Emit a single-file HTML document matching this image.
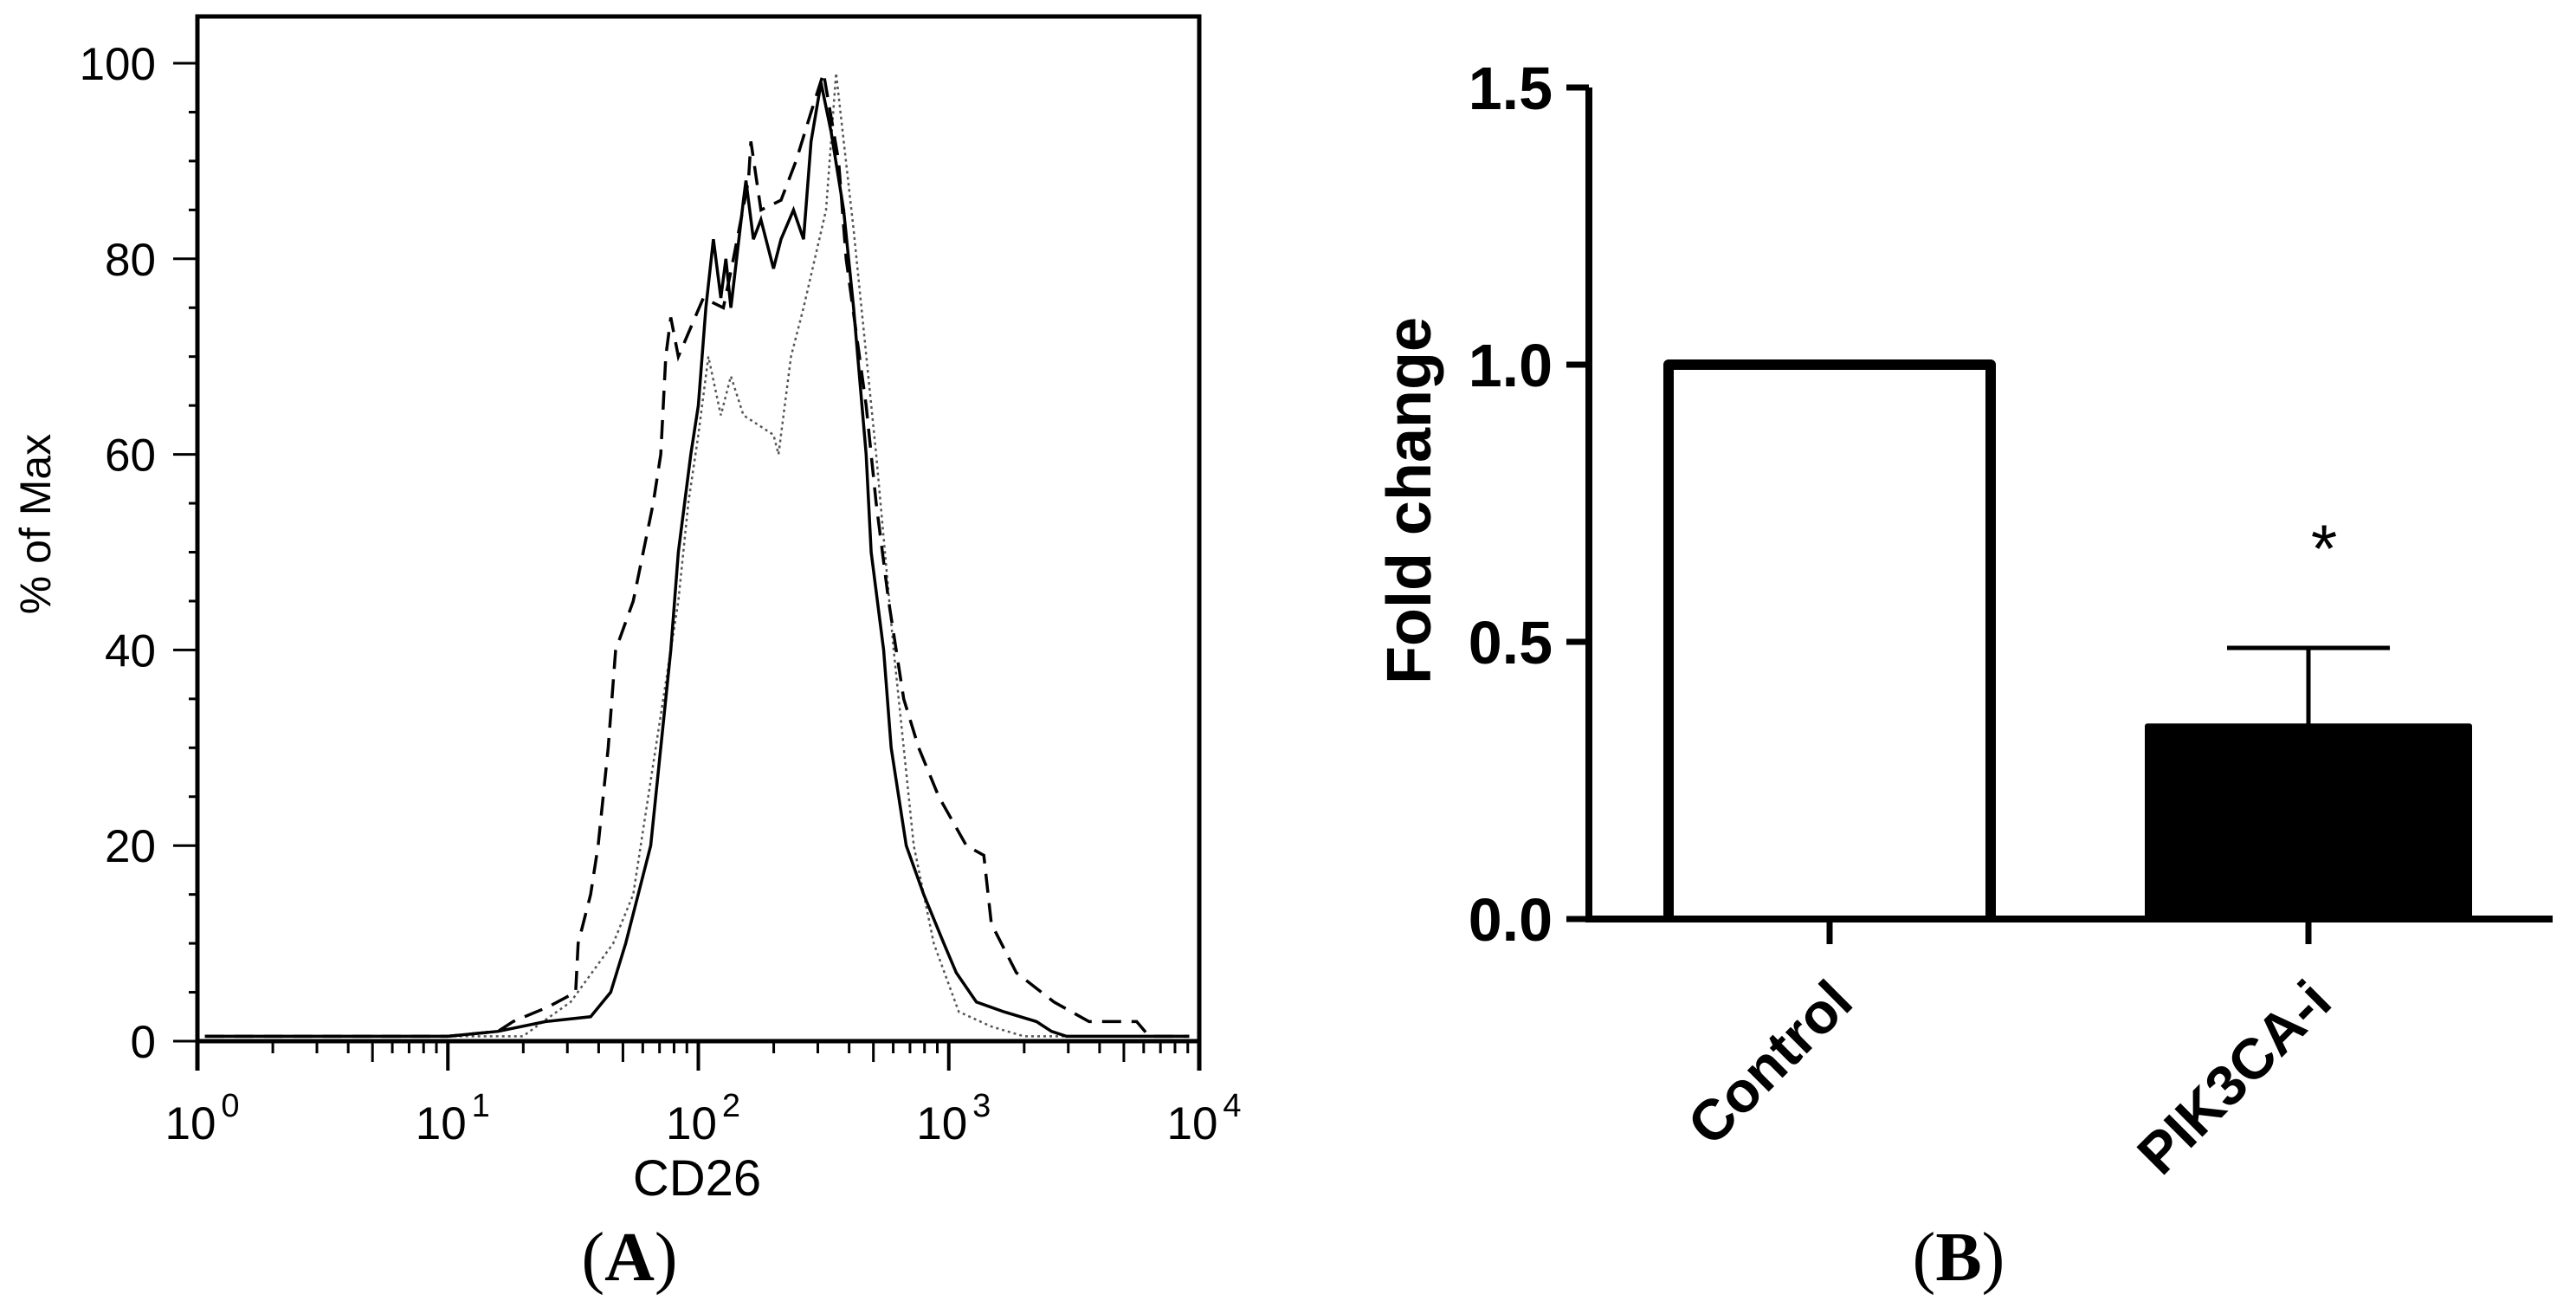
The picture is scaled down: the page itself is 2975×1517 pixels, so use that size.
<!DOCTYPE html>
<html><head><meta charset="utf-8"><style>
html,body{margin:0;padding:0;background:#fff;}
svg{display:block;font-family:"Liberation Sans",sans-serif;}
</style></head><body>
<svg id="fig" width="2975" height="1517" viewBox="0 0 2975 1517" xmlns="http://www.w3.org/2000/svg">
<g id="panelA"></g>
<g id="panelB"></g>
</svg>
<script>
// ---- Panel A data (log10 CD26, % of max) ----
const solidLog = [0.03,0.5,1.0,1.2,1.39,1.57,1.65,1.71,1.81,1.85,1.89,1.92,1.97,2.0,2.03,2.06,2.09,2.11,2.13,2.18,2.19,2.22,2.25,2.30,2.33,2.38,2.42,2.45,2.49,2.53,2.58,2.62,2.67,2.69,2.74,2.77,2.83,2.90,2.98,3.03,3.11,3.22,3.35,3.41,3.47,3.96];
const solidPct = [0.5,0.5,0.5,1,2,2.5,5,10,20,30,40,50,60,65,75,82,76,80,75,86,88,82,84,79,82,85,82,92,98,93,85,75,60,50,40,30,20,15,10,7,4,3,2,1,0.5,0.5];
const dashLog = [0.03,0.5,1.0,1.2,1.26,1.4,1.51,1.52,1.57,1.6,1.64,1.67,1.74,1.82,1.85,1.87,1.89,1.92,2.02,2.10,2.14,2.2,2.21,2.25,2.33,2.39,2.45,2.5,2.56,2.59,2.67,2.71,2.76,2.82,2.88,2.96,3.07,3.14,3.17,3.27,3.42,3.56,3.75,3.8,3.96];
const dashPct = [0.5,0.5,0.5,1,2,3.5,5,10,15,20,30,40,45,55,60,70,74,70,76,75,80,88,92,85,86,90,95,99,90,80,65,55,45,35,30,25,20,19,12,7,4,2,2,0.5,0.5];
const dotLog = [0.03,0.5,1.0,1.3,1.38,1.49,1.66,1.74,1.83,1.92,1.96,2.0,2.04,2.09,2.13,2.18,2.3,2.32,2.37,2.42,2.51,2.55,2.62,2.71,2.78,2.86,2.94,3.04,3.17,3.3,3.96];
const dotPct = [0.5,0.5,0.5,0.5,2,4,10,15,30,45,55,62,70,64,68,64,62,60,70,75,85,99,83,60,40,20,10,3,1.5,0.5,0.5];
const yTicksA = [0,20,40,60,80,100];
const xDecades = [0,1,2,3,4];

// ---- Panel B data ----
const groups = ["Control","PIK3CA-i"];
const foldValues = [1.0,0.348];
const foldErrors = [0,0.141];
const yTicksB = ["0.0","0.5","1.0","1.5"];

const NS="http://www.w3.org/2000/svg";
function mk(tag,attrs,parent){const e=document.createElementNS(NS,tag);for(const k in attrs)e.setAttribute(k,attrs[k]);parent.appendChild(e);return e;}

// ===== Panel A =====
const A=document.getElementById('panelA');
const ax0=228, ax1=1385, ayTop=19, ay0=1202, ay100=73;
const xA=l=>ax0+(ax1-ax0)*l/4;
const yA=p=>ay0-(ay0-ay100)*p/100;

let fr=mk('path',{d:`M${ax0},1236 L${ax0},${ayTop} L${ax1},${ayTop} L${ax1},1236`,fill:'none',stroke:'#000','stroke-width':5},A);


let xl=mk('line',{x1:ax0,y1:ay0,x2:ax1,y2:ay0,stroke:'#000','stroke-width':5},A);



for(let p=0;p<=100;p+=5){
  const major=p%20===0;
  let t=mk('line',{x1:major?200:218,y1:yA(p),x2:ax0,y2:yA(p),stroke:'#000','stroke-width':3},A);
  
  
}
yTicksA.forEach(p=>{
  let t=mk('text',{x:180,y:yA(p)+19,'text-anchor':'end','font-size':53,fill:'#000'},A);
  t.textContent=p;
  
  
});
for(let d=0;d<4;d++){
  for(let m=2;m<=9;m++){
    const x=xA(d+Math.log10(m));
    let t=mk('line',{x1:x,y1:ay0,x2:x,y2:m===5?1226:1216,stroke:'#000','stroke-width':3},A);
    
    
  }
}
xDecades.forEach(d=>{
  const x=xA(d);
  let t=mk('line',{x1:x,y1:ay0,x2:x,y2:1236,stroke:'#000','stroke-width':4},A);
  
  
  let tx=mk('text',{x:x-8,y:1315,'text-anchor':'middle','font-size':53,fill:'#000'},A);
  tx.textContent='10';
  
  
  let ex=mk('text',{x:x+38,y:1289,'text-anchor':'middle','font-size':38,fill:'#000'},A);
  ex.textContent=d;
  
  
});
let xt=mk('text',{x:805,y:1380,'text-anchor':'middle','font-size':58,fill:'#000'},A);
xt.textContent='CD26';


let yt=mk('text',{x:0,y:0,transform:'translate(58,605) rotate(-90)','text-anchor':'middle','font-size':50,fill:'#000'},A);
yt.textContent='% of Max';


let la=mk('text',{x:727,y:1478,'text-anchor':'middle','font-size':80,fill:'#000','font-family':'Liberation Serif, serif'},A);
la.innerHTML='(<tspan font-weight="bold">A</tspan>)';



function series(lx,py,style,name){
  const d=lx.map((l,i)=>(i?'L':'M')+xA(l).toFixed(1)+','+yA(py[i]).toFixed(1)).join(' ');
  let p=mk('path',Object.assign({d:d,fill:'none'},style),A);
  
  
}
series(dotLog,dotPct,{stroke:'#555','stroke-width':2.5,'stroke-dasharray':'3 4'},'dotted-histogram');
series(dashLog,dashPct,{stroke:'#000','stroke-width':3.5,'stroke-dasharray':'22 12'},'dashed-histogram');
series(solidLog,solidPct,{stroke:'#000','stroke-width':3.5},'solid-histogram');

// ===== Panel B =====
const B=document.getElementById('panelB');
const bx0=1835, bx1=2948, by0=1061, byTop=101, bmax=1.5;
const yB=v=>by0-(by0-byTop)*v/bmax;
const centers=[2113,2666];
const barW=372;

let yax=mk('line',{x1:bx0,y1:byTop,x2:bx0,y2:by0+4,stroke:'#000','stroke-width':8},B);


yTicksB.forEach(s=>{
  const y=yB(parseFloat(s));
  let t=mk('line',{x1:1809,y1:y,x2:bx0,y2:y,stroke:'#000','stroke-width':7},B);
  
  
  let tx=mk('text',{x:1793,y:y+25,'text-anchor':'end','font-size':70,'font-weight':'bold',fill:'#000'},B);
  tx.textContent=s;
  
  
});
let yT=mk('text',{x:0,y:0,transform:'translate(1652,578) rotate(-90)','text-anchor':'middle','font-size':72,'font-weight':'bold',fill:'#000'},B);
yT.textContent='Fold change';



groups.forEach((g,i)=>{
  const cx=centers[i], top=yB(foldValues[i]);
  const filled=i===1;
  let r=mk('path',{d:`M${cx-barW/2},${by0} L${cx-barW/2},${top} L${cx+barW/2},${top} L${cx+barW/2},${by0}`,fill:filled?'#000':'#fff',stroke:'#000','stroke-width':filled?6:12,'stroke-linejoin':'round'},B);
  
  
  if(foldErrors[i]>0){
    const ye=yB(foldValues[i]+foldErrors[i]);
    let e=mk('path',{d:`M${cx},${top} L${cx},${ye} M${cx-94},${ye} L${cx+94},${ye}`,stroke:'#000','stroke-width':5,fill:'none'},B);
    
    
    let s=mk('text',{x:cx+18,y:ye-88,'text-anchor':'middle','font-size':78,fill:'#000'},B);
    s.textContent='*';
    
    
  }
  let t=mk('line',{x1:cx,y1:by0,x2:cx,y2:1090,stroke:'#000','stroke-width':7},B);
  
  
  let l=mk('text',{x:0,y:0,transform:`translate(${cx+30},${1160}) rotate(-45)`,'text-anchor':'end','font-size':66,'font-weight':'bold',fill:'#000'},B);
  l.textContent=g;
  
  
});
let xax=mk('line',{x1:bx0,y1:by0,x2:bx1,y2:by0,stroke:'#000','stroke-width':8},B);


let lb=mk('text',{x:2262,y:1478,'text-anchor':'middle','font-size':80,fill:'#000','font-family':'Liberation Serif, serif'},B);
lb.innerHTML='(<tspan font-weight="bold">B</tspan>)';


</script>
</body></html>
